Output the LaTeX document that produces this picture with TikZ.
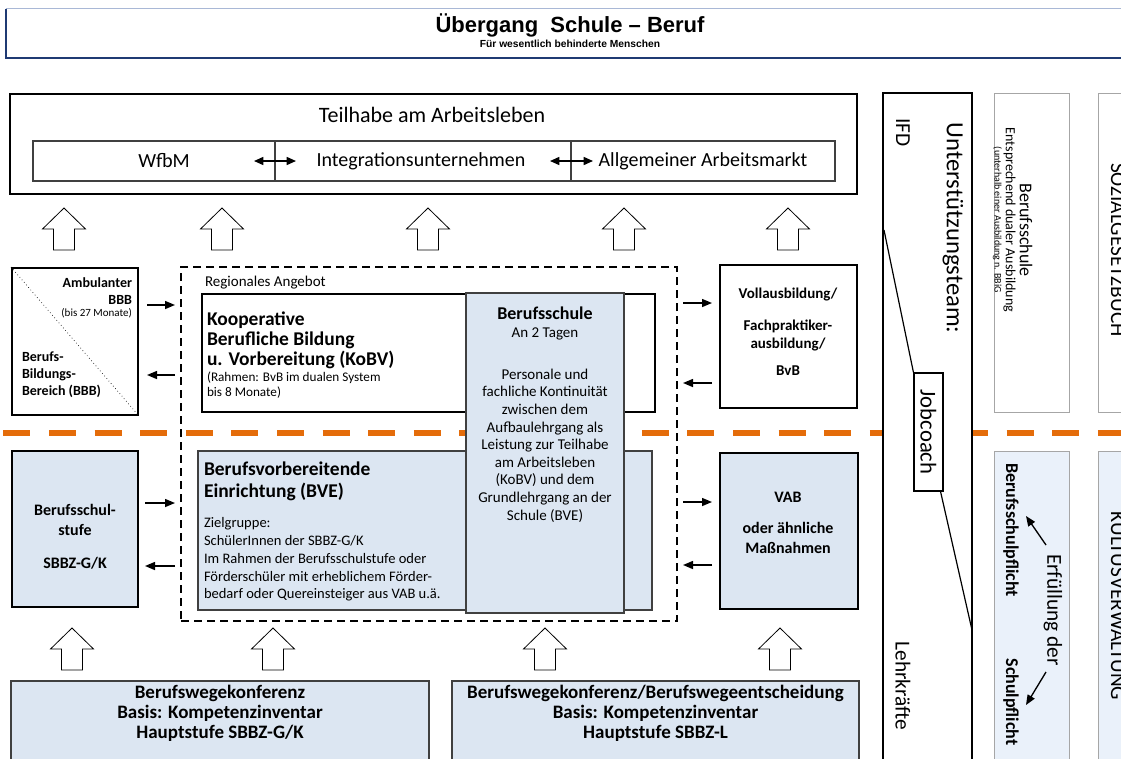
\documentclass[tikz,border=0pt]{standalone}
\usepackage{fontspec}
\setmainfont{Carlito}
\newfontfamily\arialf{Liberation Sans}
\usetikzlibrary{arrows.meta,fit}
\newcommand\fsz[2]{\fontsize{#1}{#2}\selectfont}
\definecolor{bluefill}{HTML}{DCE6F2}
\definecolor{bluefilltwo}{HTML}{EAF1FA}
\definecolor{navy}{HTML}{1F3A73}
\definecolor{titletop}{HTML}{A9B8D6}
\definecolor{orng}{HTML}{E46C0A}
\definecolor{grayline}{HTML}{A6A6A6}
\definecolor{darkline}{HTML}{404040}
\begin{document}
\begin{tikzpicture}[x=0.75pt,y=-0.75pt,
  txt/.style={inner sep=0pt, outer sep=0pt},
  thickbox/.style={draw=black, line width=1.5pt, fill=white, inner sep=0pt},
  thinbox/.style={draw=black, line width=0.8pt, fill=white, inner sep=0pt},
  rowbox/.style={draw=darkline, line width=0.8pt, fill=white, inner sep=0pt},
  bluebox/.style={draw=darkline, line width=0.8pt, fill=bluefill, inner sep=0pt},
  bluethick/.style={draw=black, line width=1.5pt, fill=bluefill, inner sep=0pt},
  bottombox/.style={draw=darkline, line width=1.1pt, fill=bluefill, inner sep=0pt},
  colbox/.style={draw=grayline, line width=0.75pt, fill=white, inner sep=0pt},
  colblue/.style={draw=grayline, line width=0.75pt, fill=bluefilltwo, inner sep=0pt},
  conn/.style={line width=1.1pt, -{Triangle[length=7.5pt,width=6pt]}},
  dconn/.style={line width=1.1pt, {Triangle[length=7pt,width=6pt]}-{Triangle[length=7pt,width=6pt]}},
  dashbox/.style={draw=black, line width=1.1pt, dash pattern=on 6pt off 3.75pt, inner sep=0pt},
  orangeline/.style={draw=orng, line width=4.5pt, dash pattern=on 20.25pt off 13.95pt},
  uparr/.pic={\draw[fill=white, line width=0.6pt] (-10.5,21) -- (-10.5,0) -- (-21.5,0) -- (0,-21) -- (21.5,0) -- (10.5,0) -- (10.5,21) -- cycle;}
]
\useasboundingbox (0,0) rectangle (1121,758);
\clip (0,0) rectangle (1121,758);
\fill[white] (0,0) rectangle (1121,758);

% title
\node[fit={(6,9) (1140,58)}, inner sep=0pt, fill=white] (titlebox) {};
\draw[titletop, line width=0.9pt] (titlebox.north west) -- (titlebox.north east);
\draw[navy, line width=1.2pt] (titlebox.north west) -- (titlebox.south west) -- (titlebox.south east);
\node[txt, font=\arialf\bfseries\fsz{16.5}{19}] (title) at (570,25) {Übergang\ \ Schule – Beruf};
\node[txt, font=\arialf\bfseries\fsz{7.7}{9}] (subtitle) at (570,44) {Für wesentlich behinderte Menschen};

% Teilhabe
\node[thickbox, fit={(10,94) (857,194)}] (teil) {};
\node[txt, font=\fsz{16.5}{20}] (teiltxt) at (432,115) {Teilhabe am Arbeitsleben};
\node[rowbox, fit={(33,141) (835,181)}] (row) {};
\draw[darkline, line width=0.8pt] (275,141) -- (275,181);
\draw[darkline, line width=0.8pt] (571,141) -- (571,181);
\node[txt, font=\fsz{15}{18}] (wfbm) at (164,161) {WfbM};
\node[txt, font=\fsz{15}{18}] (integ) at (421,161) {Integrationsunternehmen};
\node[txt, font=\fsz{15}{18}] (allg) at (703,161) {Allgemeiner Arbeitsmarkt};
\coordinate (da1) at (254,161); \coordinate (db1) at (296,161);
\coordinate (da2) at (550,161); \coordinate (db2) at (593,161);
\draw[dconn] (da1) -- (db1);
\draw[dconn] (da2) -- (db2);

% up arrows row 1
\pic (ua) at (64,229) {uparr};
\pic (ub) at (222,229) {uparr};
\pic (uc) at (428,229) {uparr};
\pic (ud) at (624,229) {uparr};
\pic (ue) at (788,229) {uparr};
% up arrows row 2
\pic (uf) at (72,649) {uparr};
\pic (ug) at (273,649) {uparr};
\pic (uh) at (545,649) {uparr};
\pic (ui) at (780,649) {uparr};

% orange separator
\coordinate (oa) at (-42.2,433); \coordinate (ob) at (1125,433);
\draw[orangeline] (oa) -- (ob);

% Ambulanter BBB
\node[thickbox, fit={(12,268) (138,415)}] (amb) {};
\draw[dotted, line width=0.5pt] (amb.north west) -- (amb.south east);
\node[txt, align=right, anchor=east, font=\bfseries\fsz{10.5}{12.75}] (ambtxt) at (132,298) {Ambulanter\\BBB\\[-3.5pt]{\mdseries\fsz{8.25}{10}(bis 27 Monate)}};
\node[txt, align=left, anchor=west, font=\bfseries\fsz{10.5}{12.75}] (bbbtxt) at (22,375) {Berufs-\\Bildungs-\\Bereich (BBB)};

% Regionales Angebot
\node[dashbox, fit={(181,267) (677,621)}] (reg) {};
\node[txt, anchor=west, font=\fsz{11.25}{13}] (regtxt) at (205,283) {Regionales Angebot};
\node[thinbox, fit={(202,294) (655,412)}] (kobv) {};
\node[txt, anchor=west, align=left, font=\bfseries\fsz{14.6}{15}] (kobvt) at (207,340) {Kooperative\\Berufliche Bildung\\u. Vorbereitung (KoBV)};
\node[txt, anchor=west, align=left, font=\fsz{9.9}{11.25}] (kobvs) at (207,385.5) {(Rahmen: BvB im dualen System\\bis 8 Monate)};
\node[bluebox, fit={(198,451) (652,610)}] (bve) {};
\node[txt, anchor=west, align=left, font=\bfseries\fsz{14.6}{16.3}] (bvet) at (204,481) {Berufsvorbereitende\\Einrichtung (BVE)};
\node[txt, anchor=west, align=left, font=\fsz{10.9}{13.3}] (bves) at (204,559.5) {Zielgruppe:\\SchülerInnen der SBBZ-G/K\\Im Rahmen der Berufsschulstufe oder\\Förderschüler mit erheblichem Förder-\\bedarf oder Quereinsteiger aus VAB u.ä.};
\node[bluebox, fit={(466,293) (624,613)}] (bs) {};
\node[txt, font=\bfseries\fsz{13.5}{16}] (bst) at (545,313) {Berufsschule};
\node[txt, font=\fsz{11.25}{13}] (bst2) at (545,334) {An 2 Tagen};
\node[txt, align=center, font=\fsz{11.25}{13.2}] (bss) at (545,445.5) {Personale und\\fachliche Kontinuität\\zwischen dem\\Aufbaulehrgang als\\Leistung zur Teilhabe\\am Arbeitsleben\\(KoBV) und dem\\Grundlehrgang an der\\Schule (BVE)};

% Vollausbildung
\node[thickbox, fit={(720,265) (857,408)}] (voll) {};
\node[txt, align=center, font=\bfseries\fsz{11.25}{13.5}] (vollt) at (788,331.5) {Vollausbildung/\\[10.5pt]Fachpraktiker-\\ausbildung/\\[6.75pt]BvB};

% Berufsschulstufe
\node[bluethick, fit={(12,451) (138,607)}] (bss2) {};
\node[txt, align=center, font=\bfseries\fsz{12}{15}] (bsst) at (75,536.5) {Berufsschul-\\stufe\\[9.75pt]SBBZ-G/K};

% VAB
\node[bluethick, fit={(720,453) (858,609)}] (vab) {};
\node[txt, align=center, font=\bfseries\fsz{12}{15}] (vabt) at (788,522.5) {VAB\\[8.25pt]oder ähnliche\\Maßnahmen};

% small arrows
\coordinate (p1) at (147,305); \coordinate (p2) at (175,305);
\coordinate (p3) at (175,375); \coordinate (p4) at (147,375);
\coordinate (p5) at (145,503); \coordinate (p6) at (175,503);
\coordinate (p7) at (175,566); \coordinate (p8) at (145,566);
\coordinate (q1) at (683,303); \coordinate (q2) at (712,303);
\coordinate (q3) at (712,383); \coordinate (q4) at (683,383);
\coordinate (q5) at (683,502); \coordinate (q6) at (712,502);
\coordinate (q7) at (712,565); \coordinate (q8) at (683,565);
\draw[conn] (p1) -- (p2); \draw[conn] (p3) -- (p4);
\draw[conn] (p5) -- (p6); \draw[conn] (p7) -- (p8);
\draw[conn] (q1) -- (q2); \draw[conn] (q3) -- (q4);
\draw[conn] (q5) -- (q6); \draw[conn] (q7) -- (q8);

% bottom boxes
\node[bottombox, fit={(11,681) (429,775)}] (bw1) {};
\node[txt, align=center, font=\bfseries\fsz{14.25}{15}] (bw1t) at (220,713) {Berufswegekonferenz\\Basis: Kompetenzinventar\\Hauptstufe SBBZ-G/K};
\node[bottombox, fit={(452,681) (859,775)}] (bw2) {};
\node[txt, align=center, font=\bfseries\fsz{14.25}{15}] (bw2t) at (655.5,713) {Berufswegekonferenz/Berufswegeentscheidung\\Basis: Kompetenzinventar\\Hauptstufe SBBZ-L};

% IFD column
\node[fit={(883,93) (972,790)}, draw=black, line width=1.2pt, fill=white, inner sep=0pt] (ifdbox) {};
\node[txt, rotate=-90, anchor=west, font=\fsz{16}{19}] (ifd) at (903,118) {IFD};
\node[txt, rotate=-90, font=\fsz{18.5}{21}] (unt) at (953,228) {Unterstützungsteam:};
\node[thinbox, fit={(914,373) (943,491)}] (jc) {};
\node[txt, rotate=-90, font=\fsz{17}{19}] (jct) at (928.5,432) {Jobcoach};
\coordinate (ifda) at (884,230);
\coordinate (ifdb) at (972,630);
\draw[line width=0.9pt] (ifda) -- (jc.north west);
\draw[line width=0.9pt] ([xshift=-2.25pt]jc.south east) -- (ifdb);
\node[txt, rotate=-90, font=\fsz{16}{19}] (lehr) at (903,686) {Lehrkräfte};

% right columns
\node[colbox, fit={(994,93) (1069,412)}] (bscol) {};
\node[txt, rotate=-90, font=\fsz{13.5}{16}] (bscol1) at (1026,230) {Berufsschule};
\node[txt, rotate=-90, font=\fsz{10.5}{13}] (bscol2) at (1009.5,220) {Entsprechend dualer Ausbildung};
\node[txt, rotate=-90, font=\fsz{7.5}{9}] (bscol3) at (997.5,220) {(unterhalb einer Ausbildung n. BBiG};
\node[colbox, fit={(1098,93) (1140,412)}] (sgb) {};
\node[txt, rotate=-90, font=\fsz{16}{19}] (sgbt) at (1118,250) {SOZIALGESETZBUCH};
\node[colblue, fit={(994,451) (1069,790)}] (pfl) {};
\node[txt, rotate=-90, font=\bfseries\fsz{13.5}{16}] (pfl1) at (1011,530) {Berufsschulpflicht};
\node[txt, rotate=-90, font=\bfseries\fsz{13.5}{16}] (pfl2) at (1011,702) {Schulpflicht};
\node[txt, rotate=-90, font=\fsz{16}{19}] (erf) at (1053,610) {Erfüllung der};
\coordinate (e1) at (1046,545); \coordinate (e2) at (1026,516);
\coordinate (e3) at (1046,672); \coordinate (e4) at (1026,705);
\draw[conn, line width=1pt] (e1) -- (e2);
\draw[conn, line width=1pt] (e3) -- (e4);
\node[colblue, fit={(1098,451) (1140,790)}] (kult) {};
\node[txt, rotate=-90, font=\fsz{16}{19}] (kultt) at (1118,606) {KULTUSVERWALTUNG};
\end{tikzpicture}
\end{document}
